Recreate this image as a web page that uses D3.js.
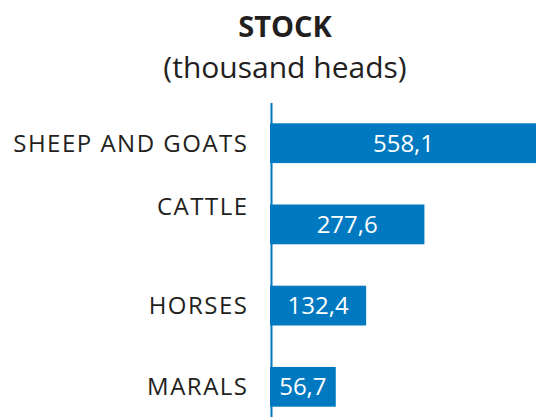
<!DOCTYPE html>
<html>
<head>
<meta charset="utf-8">
<script src="https://cdn.jsdelivr.net/npm/d3@7"></script>
<style>
  body { margin: 0; background: #fff; }
  text { font-family: "Open Sans", sans-serif; }
</style>
</head>
<body>
<div id="js_chart"></div>
<script>
// Data
const categories = ["SHEEP AND GOATS", "CATTLE", "HORSES", "MARALS"];
const values = [558.1, 277.6, 132.4, 56.7];
const valueLabels = ["558,1", "277,6", "132,4", "56,7"];

const width = 536, height = 417;
const x0 = 270;

const svg = d3.select("#js_chart")
    .append("svg")
    .attr("width", width)
    .attr("height", height);

// Scales
let x = d3.scaleLinear()
    .domain([0, 558.1])
    .range([x0 + 43, x0 + 267]);

let y = d3.scaleBand()
    .domain(categories)
    .range([103, 427])
    .paddingInner(0.51)
    .paddingOuter(0.25);

// Title
svg.append("text")
    .attr("x", 285).attr("y", 36.5)
    .attr("text-anchor", "middle")
    .attr("font-size", 29).attr("font-weight", "bold")
    .attr("fill", "#231f20")
    .text("STOCK");

svg.append("text")
    .attr("x", 285).attr("y", 78)
    .attr("text-anchor", "middle")
    .attr("font-size", 30)
    .attr("fill", "#231f20")
    .text("(thousand heads)");

// Bars
svg.append("g").selectAll("rect")
    .data(values)
    .enter().append("rect")
    .attr("x", x0)
    .attr("y", function(d, i) { return y(categories[i]); })
    .attr("width", function(d) { return x(d) - x0; })
    .attr("height", y.bandwidth())
    .attr("fill", "#0079c1");

// Axis line
svg.append("line")
    .attr("x1", x0 + 1.5).attr("x2", x0 + 1.5)
    .attr("y1", y.range()[0]).attr("y2", height)
    .attr("stroke", "#0079c1")
    .attr("stroke-width", 2);

// Value labels
svg.append("g").selectAll("text")
    .data(values)
    .enter().append("text")
    .attr("x", function(d) { return (x0 + x(d)) / 2; })
    .attr("y", function(d, i) { return y(categories[i]) + y.bandwidth() / 2; })
    .attr("dy", "0.35em")
    .attr("text-anchor", "middle")
    .attr("font-size", 24)
    .attr("fill", "#fff")
    .text(function(d, i) { return valueLabels[i]; });

// Category labels
svg.append("g").selectAll("text")
    .data(categories)
    .enter().append("text")
    .attr("x", 248.5)
    .attr("y", function(d) {
        let cy = y(d) + y.bandwidth() / 2;
        if (d === "CATTLE") cy -= 18; // label sits above its bar in the original
        return cy;
    })
    .attr("dy", "0.35em")
    .attr("text-anchor", "end")
    .attr("font-size", 24)
    .attr("letter-spacing", 1.5)
    .attr("fill", "#231f20")
    .text(function(d) { return d; });
</script>
</body>
</html>
